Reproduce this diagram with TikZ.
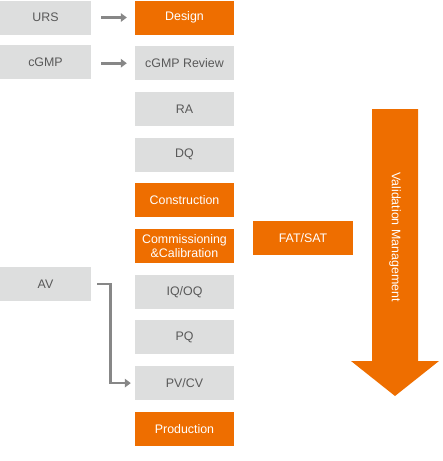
\documentclass[tikz,border=0pt]{standalone}
\usepackage{fontspec}
\setmainfont{Liberation Sans}
\usetikzlibrary{positioning,arrows.meta,calc}

\definecolor{vorange}{HTML}{EE6E00}
\definecolor{vgray}{HTML}{DDDEDE}
\definecolor{vtext}{HTML}{595959}
\definecolor{vline}{HTML}{878787}

\begin{document}
\begin{tikzpicture}[x=1pt, y=-1pt,
    font=\fontsize{12.4}{13}\selectfont,
    greybox/.style={fill=vgray, text=vtext, minimum height=34pt, inner sep=0pt, align=center},
    orangebox/.style={fill=vorange, text=white, minimum height=34pt, inner sep=0pt, align=center},
    mid/.style={minimum width=99pt},
    side/.style={minimum width=91pt},
    link/.style={draw=vline, line width=2.6pt, -{Triangle[length=6pt, width=8.5pt]}},
    node distance=11.3pt]

        \useasboundingbox (0,0) rectangle (443,461);

        % Middle column
        \node[orangebox, mid] (design) at (184.5,17.5) {Design};
        \node[greybox, mid, below=of design] (review) {cGMP Review};
        \node[greybox, mid, below=of review] (ra) {RA};
        \node[greybox, mid, below=of ra] (dq) {DQ};
        \node[orangebox, mid, below=of dq] (construct) {Construction};
        \node[orangebox, mid, below=of construct, font=\fontsize{12.4}{13.5}\selectfont] (commission) {Commissioning\\\&Calibration};
        \node[greybox, mid, below=of commission] (iqoq) {IQ/OQ};
        \node[greybox, mid, below=of iqoq] (pq) {PQ};
        \node[greybox, mid, below=of pq] (pvcv) {PV/CV};
        \node[orangebox, mid, below=of pvcv] (production) {Production};

        % Left column
        \node[greybox, side] (urs) at (45.5,17.5) {URS};
        \node[greybox, side] (cgmp) at (45.5,62) {cGMP};
        \node[greybox, side] (av) at (45.5,284) {AV};

        % Right side
        \node[orangebox, minimum width=100pt] (fatsat) at (303,238) {FAT/SAT};

        % Arrows
        \draw[link] ([xshift=10pt]urs.east) -- ([xshift=-8pt]design.west);
        \draw[link] ([xshift=10pt]cgmp.east |- review.west) -- ([xshift=-8pt]review.west);
        \draw[link] ([xshift=6pt]av.east) -- ++(13,0) |- ([xshift=-4pt]pvcv.west);

        % Big arrow
        \coordinate (top) at (395,109);
        \fill[vorange] (372,109) -- (418,109) -- (418,361) -- (439,361)
              -- (395,396) -- (351,361) -- (372,361) -- cycle;
        \node[text=white, rotate=-90, font=\fontsize{12.4}{13}\selectfont] (vm) at ($(top)+(0,128)$) {Validation Management};

      \end{tikzpicture}
\end{document}
